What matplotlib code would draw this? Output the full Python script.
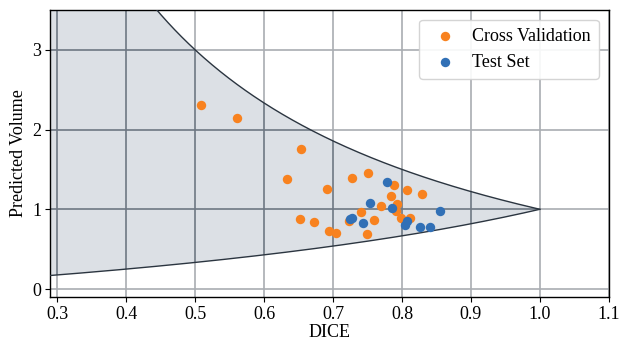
import numpy as np
import matplotlib
matplotlib.use("Agg")
import matplotlib.pyplot as plt

plt.rcParams['font.family'] = ['Liberation Serif', 'DejaVu Serif']
plt.rcParams['font.size'] = 13

# Cross validation points (DICE, predicted volume)
cv_dice = [0.508, 0.561, 0.654, 0.633, 0.652, 0.673, 0.692, 0.694, 0.705,
           0.728, 0.751, 0.789, 0.807, 0.829, 0.784, 0.793, 0.769, 0.741,
           0.792, 0.798, 0.811, 0.759, 0.723, 0.750]
cv_vol = [2.305, 2.149, 1.751, 1.385, 0.877, 0.835, 1.260, 0.730, 0.700,
          1.393, 1.461, 1.305, 1.247, 1.196, 1.162, 1.070, 1.037, 0.961,
          0.977, 0.889, 0.889, 0.860, 0.847, 0.693]

# Test set points
ts_dice = [0.778, 0.753, 0.785, 0.855, 0.728, 0.725, 0.744, 0.807, 0.805,
           0.826, 0.841]
ts_vol = [1.343, 1.078, 1.020, 0.982, 0.889, 0.877, 0.826, 0.848, 0.806,
          0.781, 0.781]

x_ticks = [0.3, 0.4, 0.5, 0.6, 0.7, 0.8, 0.9, 1.0, 1.1]
y_ticks = [0, 1, 2, 3]

fig, ax = plt.subplots(figsize=(6.2, 3.41), dpi=100)
fig.subplots_adjust(left=0.081, right=0.982, top=0.971, bottom=0.129)

# feasible region: best possible volume ratio for a given dice
d = np.linspace(0.2, 1.0, 400)
upper = 2.0 / d - 1.0
lower = d / (2.0 - d)
poly = ax.fill_between(d, lower, upper, color='#dce0e5', lw=0, zorder=1)
ax.plot(d, upper, color='#2b3540', lw=1.0, zorder=3)
ax.plot(d, lower, color='#2b3540', lw=1.0, zorder=3)

ax.set_xlim(0.29, 1.1)
ax.set_ylim(-0.1, 3.5)
ax.set_xticks(x_ticks)
ax.set_yticks(y_ticks)
ax.set_xticklabels(['%.1f' % t for t in x_ticks])
ax.tick_params(labelsize=13, pad=3)

# light grid everywhere, darker inside the shaded region
ax.grid(True, color='#a9adb2', lw=1.2, zorder=0)
ax.set_axisbelow(True)
path = poly.get_paths()[0]
for t in x_ticks:
    ln = ax.axvline(t, color='#6e7883', lw=1.2, zorder=2)
    ln.set_clip_path(path, ax.transData)
for t in y_ticks:
    ln = ax.axhline(t, color='#6e7883', lw=1.2, zorder=2)
    ln.set_clip_path(path, ax.transData)

ax.scatter(cv_dice, cv_vol, s=46, color='#f8821f', lw=0, zorder=4,
           label='Cross Validation')
ax.scatter(ts_dice, ts_vol, s=46, color='#3170b6', lw=0, zorder=5,
           label='Test Set')

ax.set_xlabel('DICE', labelpad=1)
ax.set_ylabel('Predicted Volume', labelpad=4)

leg = ax.legend(loc='upper right', fontsize=13, borderpad=0.45,
                handletextpad=0.5, framealpha=0.9, borderaxespad=0.55)
leg.get_frame().set_edgecolor('#d0d0d0')

for s in ax.spines.values():
    s.set_linewidth(1.0)

fig.savefig('out.png', dpi=100)
